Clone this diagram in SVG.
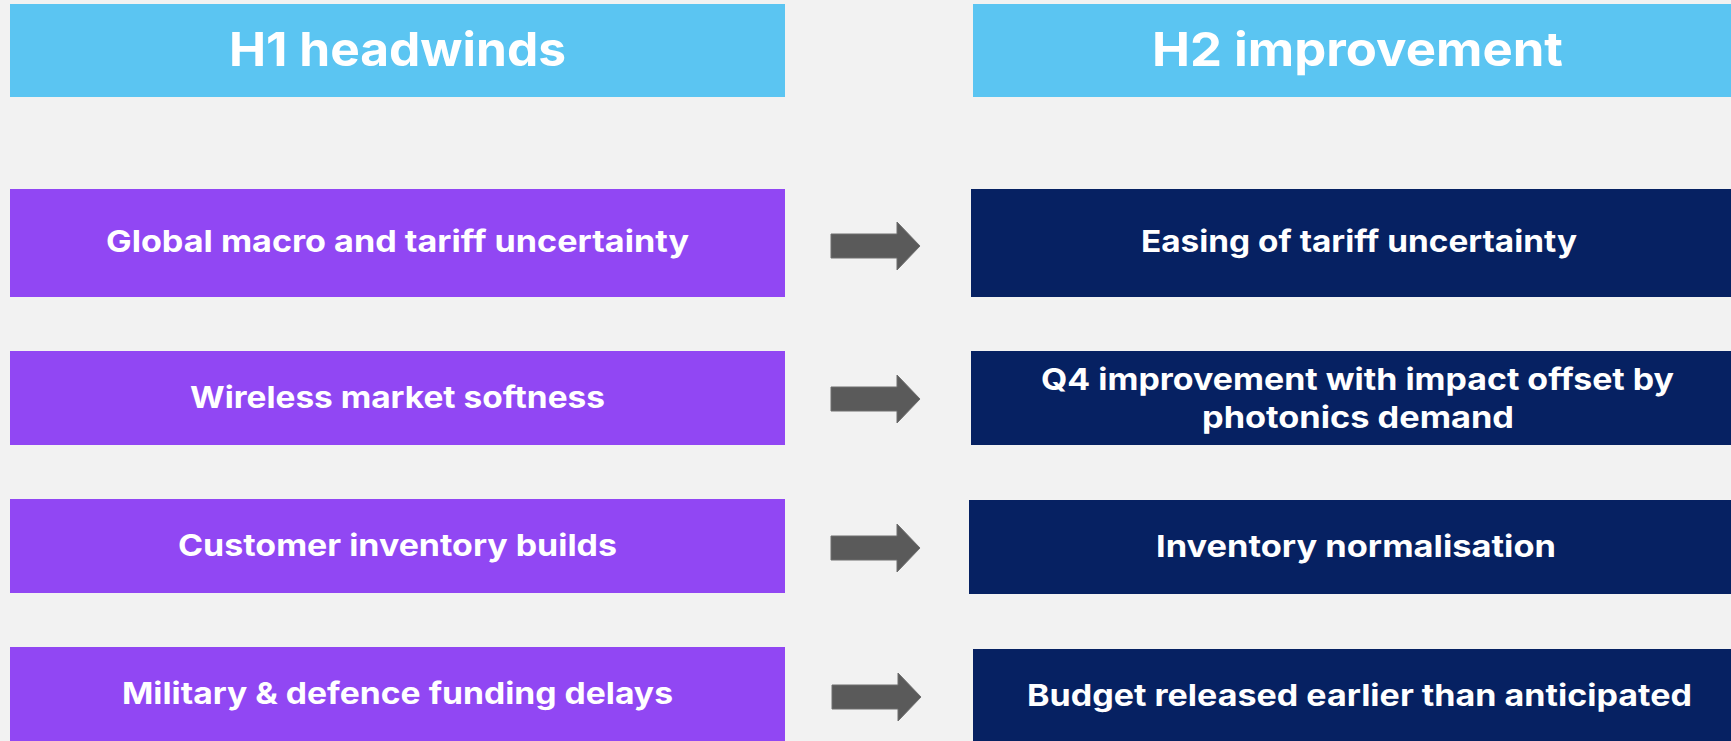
<svg xmlns="http://www.w3.org/2000/svg" width="1731" height="741" viewBox="0 0 1731 741">
  <style>
    .hdr { fill: #5bc5f2; }
    .before { fill: #9147f3; }
    .after { fill: #062162; }
    .t { font-family: Inter, "Liberation Sans", sans-serif; font-weight: 700; fill: #ffffff; }
    .th { font-size: 47px; }
    .tr { font-size: 30px; }
    .arrow { fill: #5a5a5a; stroke: #6e6e6e; stroke-width: 1; }
  </style>
  <defs>
    <!-- block arrow, origin at left middle of the shaft -->
    <path id="blockArrow" d="M0,-12 H66 V-24 L89,0 L66,24 V12 H0 Z"/>
  </defs>

  <rect x="0" y="0" width="1731" height="741" fill="#f2f2f2"/>

  <!-- column headers -->
  <g id="header-h1">
    <rect class="hdr" x="10" y="4" width="775" height="93"/>
    <text class="t th" x="229" y="66" textLength="337" lengthAdjust="spacingAndGlyphs">H1 headwinds</text>
  </g>
  <g id="header-h2">
    <rect class="hdr" x="973" y="4" width="758" height="93"/>
    <text class="t th" x="1152" y="66" textLength="411" lengthAdjust="spacingAndGlyphs">H2 improvement</text>
  </g>

  <!-- H1 headwinds -->
  <g id="h1-macro">
    <rect class="before" x="10" y="189" width="775" height="108"/>
    <text class="t tr" x="106" y="252" textLength="583" lengthAdjust="spacingAndGlyphs">Global macro and tariff uncertainty</text>
  </g>
  <g id="h1-wireless">
    <rect class="before" x="10" y="351" width="775" height="94"/>
    <text class="t tr" x="190" y="408" textLength="415" lengthAdjust="spacingAndGlyphs">Wireless market softness</text>
  </g>
  <g id="h1-inventory">
    <rect class="before" x="10" y="499" width="775" height="94"/>
    <text class="t tr" x="178" y="556" textLength="439" lengthAdjust="spacingAndGlyphs">Customer inventory builds</text>
  </g>
  <g id="h1-defence">
    <rect class="before" x="10" y="647" width="775" height="94"/>
    <text class="t tr" x="122" y="704" textLength="551" lengthAdjust="spacingAndGlyphs">Military &amp; defence funding delays</text>
  </g>

  <!-- H2 improvements -->
  <g id="h2-tariff">
    <rect class="after" x="971" y="189" width="760" height="108"/>
    <text class="t tr" x="1141" y="252" textLength="436" lengthAdjust="spacingAndGlyphs">Easing of tariff uncertainty</text>
  </g>
  <g id="h2-q4">
    <rect class="after" x="971" y="351" width="760" height="94"/>
    <text class="t tr" x="1041" y="390" textLength="633" lengthAdjust="spacingAndGlyphs">Q4 improvement with impact offset by</text>
    <text class="t tr" x="1202" y="428" textLength="312" lengthAdjust="spacingAndGlyphs">photonics demand</text>
  </g>
  <g id="h2-inventory">
    <rect class="after" x="969" y="500" width="762" height="94"/>
    <text class="t tr" x="1156" y="557" textLength="400" lengthAdjust="spacingAndGlyphs">Inventory normalisation</text>
  </g>
  <g id="h2-budget">
    <rect class="after" x="973" y="649" width="758" height="92"/>
    <text class="t tr" x="1027" y="706" textLength="665" lengthAdjust="spacingAndGlyphs">Budget released earlier than anticipated</text>
  </g>

  <!-- connectors -->
  <g id="connectors">
    <use href="#blockArrow" class="arrow" transform="translate(831,246)"/>
    <use href="#blockArrow" class="arrow" transform="translate(831,399)"/>
    <use href="#blockArrow" class="arrow" transform="translate(831,548)"/>
    <use href="#blockArrow" class="arrow" transform="translate(832,697)"/>
  </g>
</svg>
